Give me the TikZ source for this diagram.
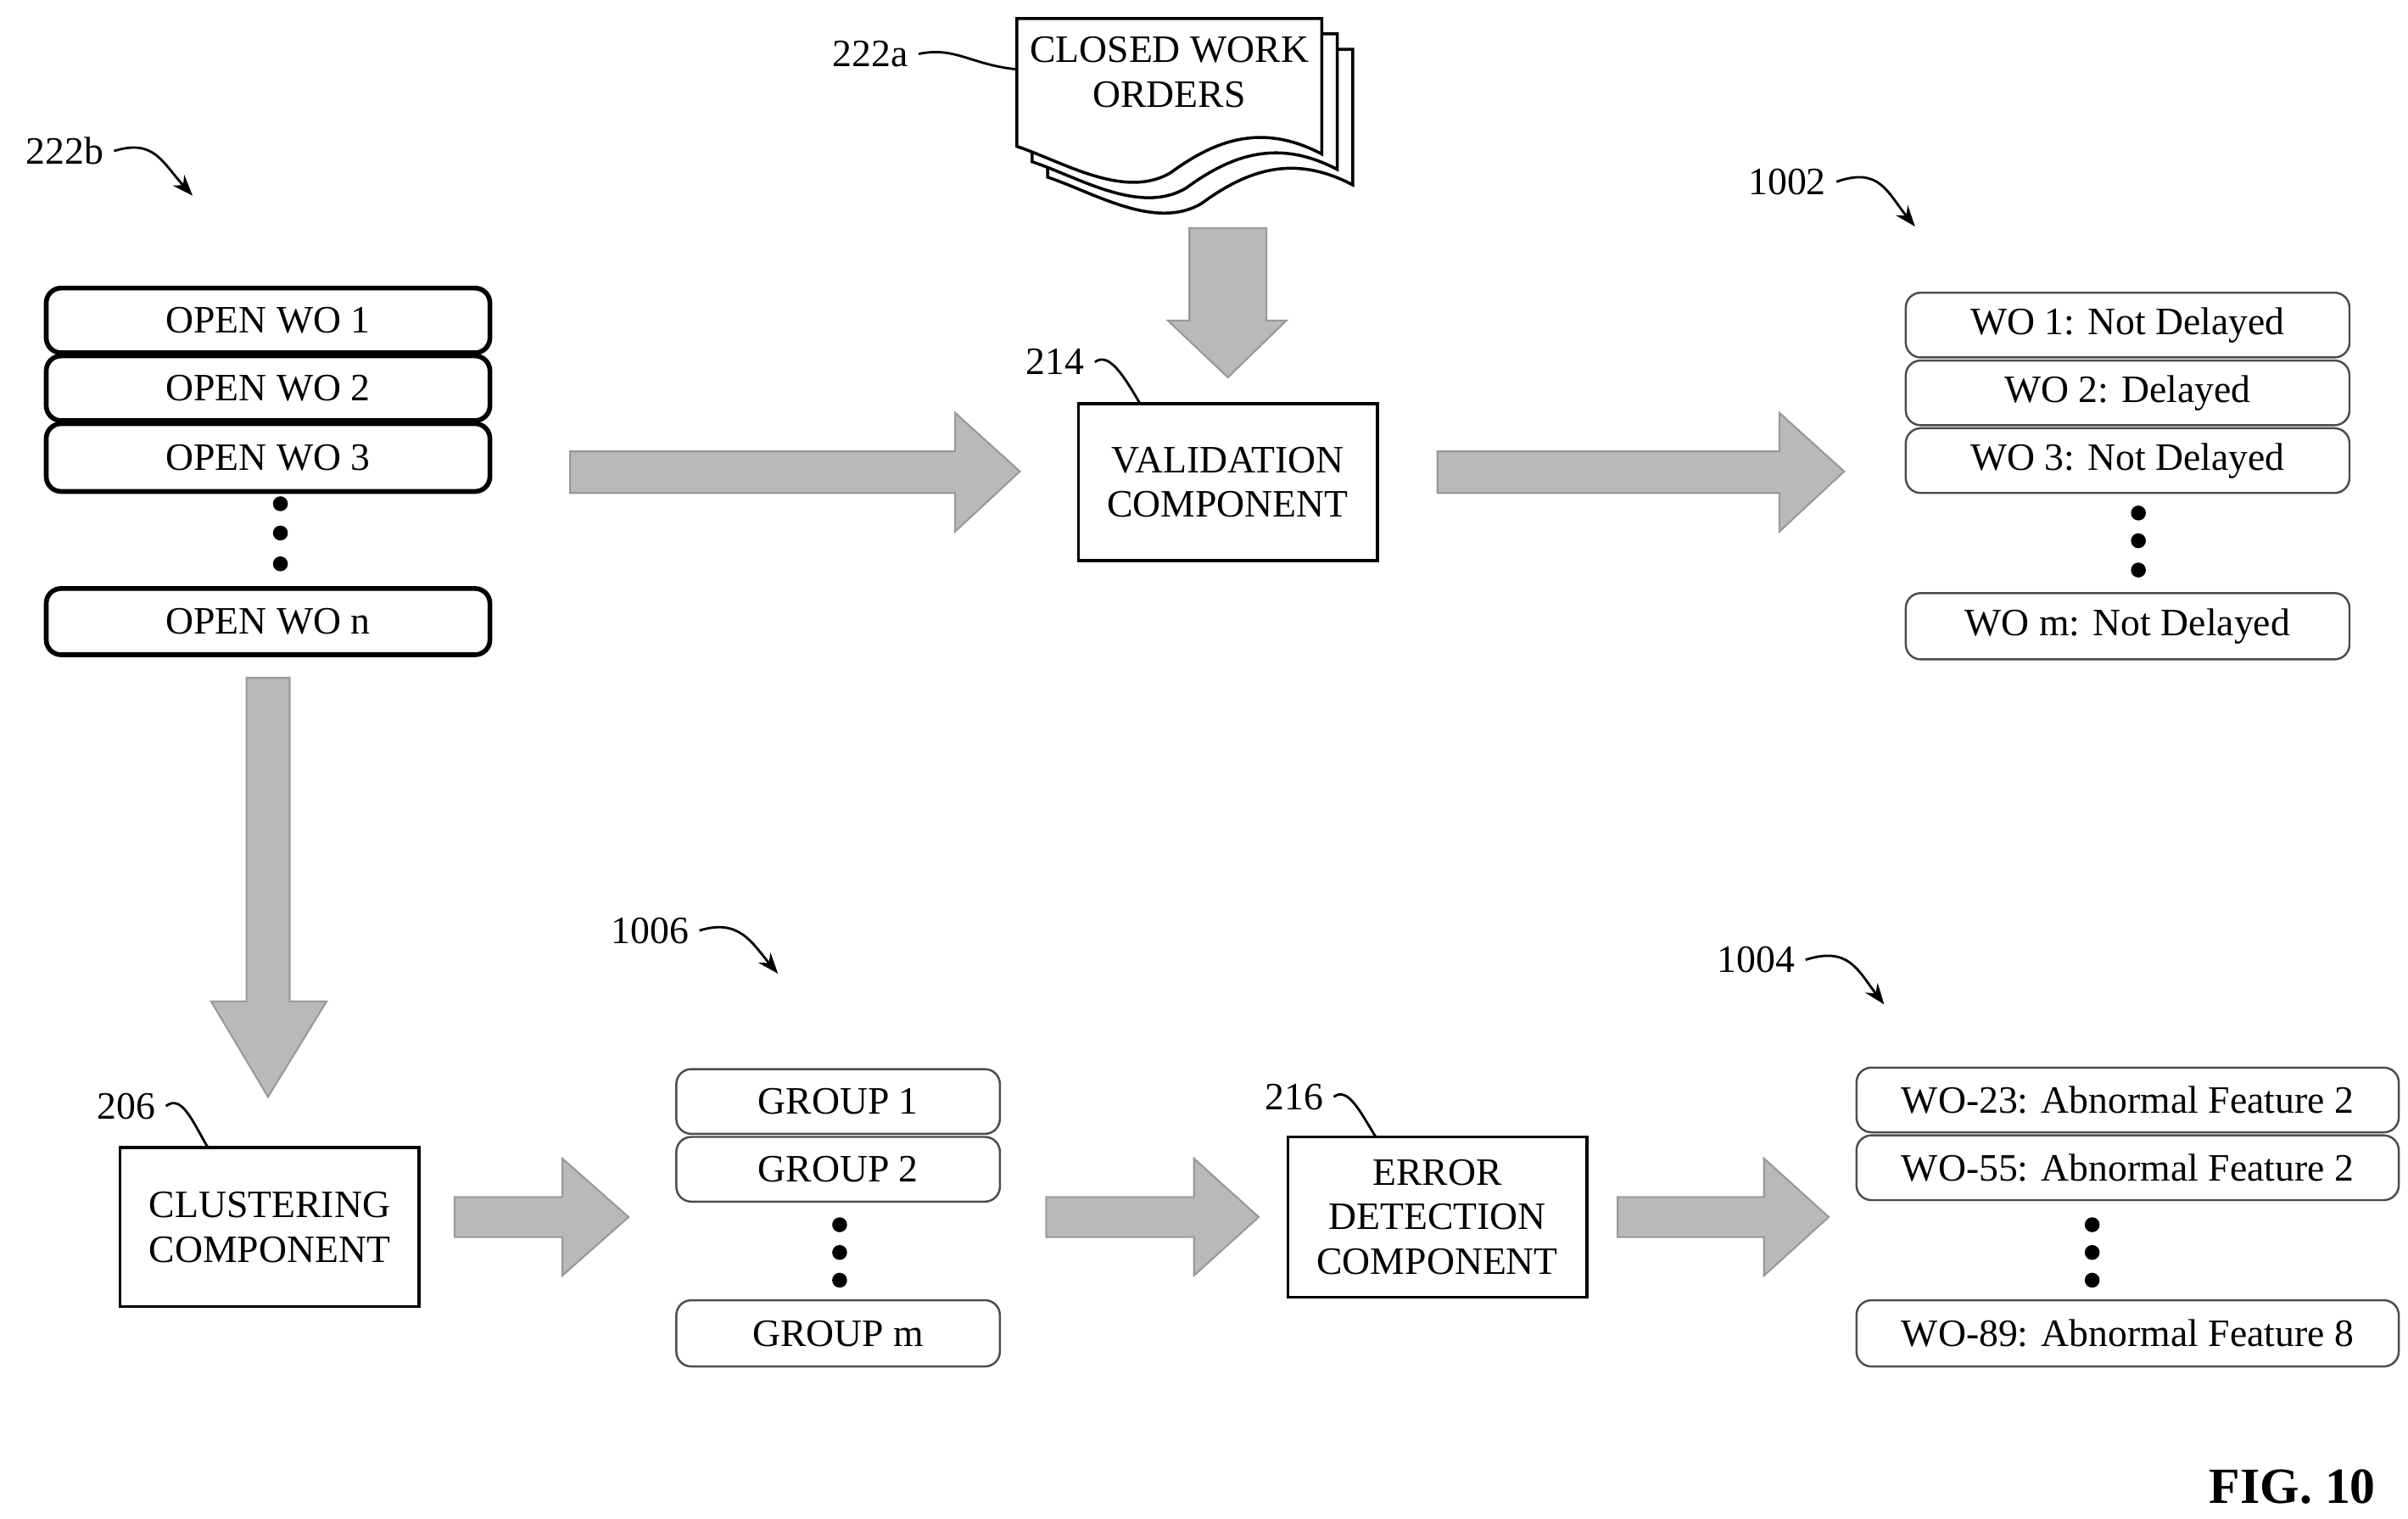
\documentclass[tikz,border=0pt]{standalone}
\usepackage{fontspec}
\setmainfont{Liberation Serif}
\usetikzlibrary{arrows.meta}
\begin{document}
\begin{tikzpicture}[x=0.018164cm,y=-0.018164cm,
  every node/.style={font=\fontsize{13}{15}\selectfont},
  wo/.style={draw,line width=1.6pt,rounded corners=5pt,minimum width=288\pgflinewidth,inner sep=0pt},
  res/.style={draw=black!70,line width=0.7pt,rounded corners=5pt,inner sep=0pt},
  comp/.style={draw,line width=1pt,inner sep=0pt,align=center},
  big/.style={fill=gray!55,draw=gray!80,line width=0.6pt},
  lab/.style={draw,line width=0.8pt,-{Stealth[length=7pt]}},
  dot/.style={circle,fill,inner sep=0pt,minimum size=5pt}]
\useasboundingbox (0,0) rectangle (1563,986);
% open WOs
\foreach \n/\t/\a/\b in {o1/OPEN WO 1/187/229,o2/OPEN WO 2/231/273,o3/OPEN WO 3/275/319,on/OPEN WO n/382/425}
  \draw[line width=1.6pt,rounded corners=5pt] (30,\a) rectangle node(\n){\t} (318,\b);
\foreach \y in {327,346,366} \node[dot] (od\y) at (182,\y) {};
\node (l222b) at (42,98) {222b};
\draw[lab] (l222b.east) .. controls (100,90) and (105,105) .. (125,127);
% closed work orders document stack
\foreach \d in {20,10,0}
  \draw[line width=1pt,fill=white] (660+\d,12+\d) -- (858+\d,12+\d) -- (858+\d,100+\d)
     .. controls (820+\d,80+\d) and (790+\d,90+\d) .. (760+\d,112+\d)
     .. controls (730+\d,130+\d) and (690+\d,105+\d) .. (660+\d,95+\d) -- cycle;
\node[align=center] (cwo) at (759,47) {CLOSED WORK\\ORDERS};
\node (l222a) at (565,35) {222a};
\draw[line width=0.8pt] (l222a.east) .. controls (620,30) and (630,42) .. (660,45);
% down arrow into validation
\draw[big] (772,148) -- (822,148) -- (822,208) -- (835,208) -- (797,245) -- (758,208) -- (772,208) -- cycle;
\draw[line width=1pt] (700,262) rectangle node[align=center](val){VALIDATION\\COMPONENT} (894,364);
\node (l214) at (685,235) {214};
\draw[line width=0.8pt] (l214.east) .. controls (720,228) and (730,245) .. (740,262);
% right arrows
\draw[big] (370,293) -- (620,293) -- (620,268) -- (662,306) -- (620,345) -- (620,320) -- (370,320) -- cycle;
\draw[big] (933,293) -- (1155,293) -- (1155,268) -- (1197,306) -- (1155,345) -- (1155,320) -- (933,320) -- cycle;
% results
\foreach \n/\t/\a/\b in {r1/WO 1: Not Delayed/190/232,r2/WO 2: Delayed/234/276,r3/WO 3: Not Delayed/278/320,rm/WO m: Not Delayed/385/428}
  \draw[draw=black!70,line width=0.7pt,rounded corners=5pt] (1237,\a) rectangle node(\n){\t} (1525,\b);
\foreach \y in {333,351,370} \node[dot] (rd\y) at (1388,\y) {};
\node (l1002) at (1160,118) {1002};
\draw[lab] (l1002.east) .. controls (1220,108) and (1225,125) .. (1243,147);
% down arrow to clustering
\draw[big] (160,440) -- (188,440) -- (188,650) -- (212,650) -- (174,712) -- (137,650) -- (160,650) -- cycle;
\draw[line width=1pt] (78,745) rectangle node[align=center](clu){CLUSTERING\\COMPONENT} (272,848);
\node (l206) at (82,718) {206};
\draw[line width=0.8pt] (l206.east) .. controls (118,710) and (125,728) .. (135,745);
\draw[big] (295,777) -- (365,777) -- (365,752) -- (408,790) -- (365,828) -- (365,803) -- (295,803) -- cycle;
% groups
\foreach \n/\t/\a/\b in {g1/GROUP 1/694/736,g2/GROUP 2/738/780,gm/GROUP m/844/887}
  \draw[draw=black!70,line width=0.7pt,rounded corners=5pt] (439,\a) rectangle node(\n){\t} (649,\b);
\foreach \y in {795,813,831} \node[dot] (gd\y) at (545,\y) {};
\node (l1006) at (422,604) {1006};
\draw[lab] (l1006.east) .. controls (480,596) and (488,612) .. (505,632);
\draw[big] (679,777) -- (775,777) -- (775,752) -- (817,790) -- (775,828) -- (775,803) -- (679,803) -- cycle;
\draw[line width=1pt] (836,738) rectangle node[align=center](err){ERROR\\DETECTION\\COMPONENT} (1030,842);
\node (l216) at (840,712) {216};
\draw[line width=0.8pt] (l216.east) .. controls (875,705) and (883,722) .. (893,738);
\draw[big] (1050,777) -- (1145,777) -- (1145,752) -- (1187,790) -- (1145,828) -- (1145,803) -- (1050,803) -- cycle;
% abnormal
\foreach \n/\t/\a/\b in {a1/WO-23: Abnormal Feature 2/693/735,a2/WO-55: Abnormal Feature 2/737/779,am/WO-89: Abnormal Feature 8/844/887}
  \draw[draw=black!70,line width=0.7pt,rounded corners=5pt] (1205,\a) rectangle node(\n){\t} (1557,\b);
\foreach \y in {795,813,831} \node[dot] (ad\y) at (1358,\y) {};
\node (l1004) at (1140,623) {1004};
\draw[lab] (l1004.east) .. controls (1200,614) and (1206,630) .. (1223,652);
\node[font=\fontsize{17}{20}\selectfont\bfseries] (fig) at (1488,965) {FIG. 10};
\end{tikzpicture}
\end{document}
